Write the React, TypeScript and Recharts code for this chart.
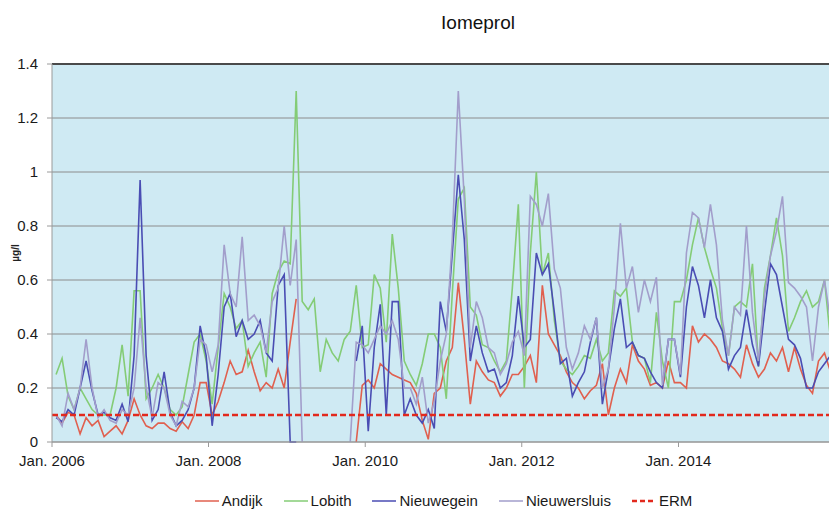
import {
  LineChart,
  Line,
  XAxis,
  YAxis,
  CartesianGrid,
  Legend,
  ReferenceLine,
} from "recharts";

// sampling: every 4 weeks, first sample around 20 Jan 2006
const FIRST_SAMPLE = "2006-01-20";
const SAMPLE_STEP_DAYS = 28;
const AXIS_START = "2006-01-01";
const AXIS_DAYS = 3624;

const TICK_DATES = ["2006-01-01", "2008-01-01", "2010-01-01", "2012-01-01", "2014-01-01"];
const TICK_LABELS = ["Jan. 2006", "Jan. 2008", "Jan. 2010", "Jan. 2012", "Jan. 2014"];
const Y_TICKS = [0, 0.2, 0.4, 0.6, 0.8, 1, 1.2, 1.4];
const ERM_LEVEL = 0.1;

// µg/l, null = no measurement
const andijk = [
  0.1, 0.07, 0.11, 0.1, 0.03, 0.09, 0.06, 0.08, 0.02, 0.04,
  0.06, 0.03, 0.08, 0.16, 0.1, 0.06, 0.05, 0.07, 0.07, 0.05,
  0.04, 0.075, 0.05, 0.1, 0.22, 0.22, 0.1, 0.15, 0.22, 0.3,
  0.25, 0.26, 0.34, 0.26, 0.19, 0.22, 0.2, 0.27, 0.2, 0.37,
  0.53, null, null, null, null, null, null, null, null, null,
  0, 0.21, 0.23, 0.2, 0.29, 0.27, 0.25, 0.24, 0.23, 0.22,
  0.18, 0.08, 0.01, 0.18, 0.2, 0.3, 0.35, 0.59, 0.38, 0.14,
  0.3, 0.26, 0.23, 0.22, 0.17, 0.2, 0.25, 0.25, 0.28, 0.32,
  0.22, 0.58, 0.4, 0.36, 0.32, 0.26, 0.22, 0.2, 0.16, 0.19,
  0.21, 0.29, 0.1, 0.2, 0.27, 0.22, 0.36, 0.3, 0.27, 0.21,
  0.22, 0.2, 0.3, 0.22, 0.22, 0.2, 0.43, 0.37, 0.4, 0.38,
  0.35, 0.3, 0.29, 0.27, 0.24, 0.36, 0.29, 0.24, 0.27, 0.33,
  0.3, 0.35, 0.26, 0.35, 0.27, 0.21, 0.18, 0.3, 0.33, 0.26,
];

const lobith = [
  0.25, 0.31, 0.17, 0.12, 0.2, 0.16, 0.12, 0.1, 0.1, 0.1,
  0.2, 0.36, 0.17, 0.56, 0.56, 0.16, 0.2, 0.25, 0.2, 0.12,
  0.1, 0.13, 0.25, 0.37, 0.4, 0.3, 0.14, 0.35, 0.55, 0.5,
  0.42, 0.45, 0.28, 0.33, 0.37, 0.24, 0.55, 0.63, 0.67, 0.66,
  1.3, 0.52, 0.49, 0.53, 0.26, 0.38, 0.33, 0.3, 0.38, 0.41,
  0.58, 0.35, 0.36, 0.62, 0.57, 0.37, 0.77, 0.57, 0.3, 0.25,
  0.21, 0.29, 0.4, 0.4, 0.35, 0.16, 0.55, 0.9, 0.94, 0.5,
  0.47, 0.36, 0.35, 0.3, 0.26, 0.3, 0.57, 0.88, 0.2, 0.7,
  1.0, 0.62, 0.7, 0.45, 0.3, 0.27, 0.25, 0.28, 0.32, 0.31,
  0.38, 0.3, 0.33, 0.56, 0.54, 0.57, 0.37, 0.32, 0.31, 0.22,
  0.48, 0.3, 0.2, 0.52, 0.52, 0.6, 0.73, 0.83, 0.72, 0.64,
  0.57, 0.42, 0.32, 0.5, 0.52, 0.5, 0.66, 0.28, 0.57, 0.69,
  0.83, 0.69, 0.41, 0.46, 0.52, 0.56, 0.5, 0.52, 0.6, 0.38,
];

const nieuwegein = [
  0.09, 0.075, 0.12, 0.1, 0.2, 0.3, 0.19, 0.1, 0.11, 0.09,
  0.08, 0.14, 0.075, 0.32, 0.97, 0.32, 0.08, 0.12, 0.26, 0.11,
  0.06, 0.08, 0.12, 0.2, 0.43, 0.32, 0.06, 0.25, 0.5, 0.55,
  0.39, 0.45, 0.38, 0.4, 0.45, 0.33, 0.3, 0.58, 0.62, 0,
  0, null, null, null, null, null, null, null, null, null,
  0.3, 0.43, 0.04, 0.35, 0.51, 0.1, 0.52, 0.52, 0.1, 0.16,
  0.1, 0.07, 0.12, 0.05, 0.52, 0.41, 0.7, 0.99, 0.75, 0.3,
  0.43, 0.33, 0.26, 0.27, 0.2, 0.22, 0.32, 0.54, 0.35, 0.38,
  0.7, 0.62, 0.66, 0.48, 0.29, 0.31, 0.17, 0.22, 0.26, 0.37,
  0.46, 0.14, 0.27, 0.42, 0.53, 0.35, 0.37, 0.32, 0.31, 0.26,
  0.22, 0.2, 0.38, 0.38, 0.24, 0.5, 0.65, 0.58, 0.46, 0.6,
  0.46, 0.41, 0.27, 0.32, 0.35, 0.49, 0.36, 0.28, 0.48, 0.66,
  0.62, 0.5, 0.38, 0.36, 0.31, 0.2, 0.2, 0.26, 0.29, 0.32,
];

const nieuwersluis = [
  0.1, 0.06, 0.18, 0.12, 0.2, 0.38, 0.2, 0.09, 0.12, 0.08,
  0.07, 0.12, 0.1, 0.2, 0.46, 0.2, 0.09, 0.22, 0.2, 0.1,
  0.06, 0.15, 0.13, 0.2, 0.38, 0.36, 0.26, 0.36, 0.73, 0.55,
  0.5, 0.76, 0.45, 0.47, 0.43, 0.33, 0.52, 0.57, 0.8, 0.58,
  0.75, 0, null, null, null, null, null, null, null, 0,
  0.37, 0.36, 0.33, 0.38, 0.43, 0.4, 0.45, 0.38, 0.2, 0.2,
  0.14, 0.24, 0.07, 0.15, 0.3, 0.4, 0.75, 1.3, 0.9, 0.35,
  0.52, 0.46, 0.35, 0.33, 0.25, 0.29, 0.37, 0.41, 0.32, 0.91,
  0.88, 0.8, 0.92, 0.64, 0.57, 0.35, 0.27, 0.33, 0.43, 0.38,
  0.46, 0.2, 0.27, 0.5, 0.81, 0.57, 0.65, 0.48, 0.6, 0.52,
  0.61, 0.21, 0.38, 0.38, 0.25, 0.7, 0.85, 0.83, 0.72, 0.88,
  0.73, 0.45, 0.32, 0.5, 0.47, 0.8, 0.48, 0.3, 0.54, 0.69,
  0.78, 0.91, 0.59, 0.57, 0.54, 0.5, 0.3, 0.5, 0.6, 0.45,
];

const SERIES = [
  { key: "andijk", name: "Andijk", color: "#e0604f", values: andijk },
  { key: "lobith", name: "Lobith", color: "#84cc76", values: lobith },
  { key: "nieuwegein", name: "Nieuwegein", color: "#4a4db3", values: nieuwegein },
  { key: "nieuwersluis", name: "Nieuwersluis", color: "#a29ecb", values: nieuwersluis },
];
const ERM_COLOR = "#e2291d";

const DAY_MS = 86400000;
const dayOf = (iso: string) => (Date.parse(iso) - Date.parse(AXIS_START)) / DAY_MS;
const firstDay = dayOf(FIRST_SAMPLE);

const data = andijk.map((_, i) => {
  const row: Record<string, number | null> = { day: firstDay + i * SAMPLE_STEP_DAYS };
  for (const s of SERIES) row[s.key] = s.values[i];
  return row;
});

const tickDays = TICK_DATES.map(dayOf);
const tickLabel = (d: number) => {
  const idx = tickDays.findIndex((t) => Math.abs(t - d) < 1);
  return idx >= 0 ? TICK_LABELS[idx] : "";
};

const FONT = "'Liberation Sans', Arial, sans-serif";

function ChartLegend() {
  return (
    <div
      style={{
        display: "flex",
        justifyContent: "center",
        alignItems: "center",
        gap: 21,
        fontFamily: FONT,
        fontSize: 15,
        color: "#1a1a1a",
      }}
    >
      {SERIES.map((s) => (
        <div key={s.key} style={{ display: "flex", alignItems: "center" }}>
          <svg width={24} height={10} style={{ marginRight: 3 }}>
            <line x1={0} y1={5} x2={24} y2={5} stroke={s.color} strokeWidth={1.5} />
          </svg>
          <span>{s.name}</span>
        </div>
      ))}
      <div style={{ display: "flex", alignItems: "center" }}>
        <svg width={24} height={10} style={{ marginRight: 3 }}>
          <line x1={0} y1={5} x2={24} y2={5} stroke={ERM_COLOR} strokeWidth={2.5} strokeDasharray="5 3" />
        </svg>
        <span>ERM</span>
      </div>
    </div>
  );
}

export default function App() {
  return (
    <div style={{ position: "absolute", left: 0, top: 0, width: 829, height: 513, background: "#fff" }}>
      <LineChart
        width={829}
        height={513}
        data={data}
        margin={{ top: 64, right: 0, left: 0, bottom: 41 }}
        style={{ fontFamily: FONT }}
      >
        <CartesianGrid vertical={false} stroke="#8c8c8c" fill="#cfeaf3" />
        <XAxis
          type="number"
          dataKey="day"
          domain={[0, AXIS_DAYS]}
          allowDataOverflow
          ticks={tickDays}
          tickFormatter={tickLabel}
          stroke="#9a9a9a"
          tickSize={5}
          tickMargin={8}
          height={30}
          tick={{ fill: "#1a1a1a", fontSize: 15 }}
        />
        <YAxis
          domain={[0, 1.4]}
          ticks={Y_TICKS}
          width={52}
          stroke="#9a9a9a"
          tickSize={5}
          tickMargin={9}
          tick={{ fill: "#1a1a1a", fontSize: 15 }}
        />
        {SERIES.map((s) => (
          <Line
            key={s.key}
            type="linear"
            dataKey={s.key}
            name={s.name}
            stroke={s.color}
            strokeWidth={1.6}
            dot={false}
            activeDot={false}
            isAnimationActive={false}
          />
        ))}
        <ReferenceLine y={ERM_LEVEL} stroke={ERM_COLOR} strokeWidth={2.5} strokeDasharray="6 3" />
        <ReferenceLine y={1.4} stroke="#4a4a4a" strokeWidth={2} />
        <Legend
          verticalAlign="middle"
          align="center"
          layout="horizontal"
          wrapperStyle={{ left: 0, top: 492, width: 887 }}
          content={() => <ChartLegend />}
        />
        <text x={478} y={29} textAnchor="middle" fontSize={19} fill="#111" fontFamily={FONT}>
          Iomeprol
        </text>
        <text
          x={19}
          y={253}
          textAnchor="middle"
          fontSize={10}
          fontWeight="bold"
          fill="#222"
          fontFamily={FONT}
          transform="rotate(-90 19 253)"
        >
          µg/l
        </text>
      </LineChart>
    </div>
  );
}
